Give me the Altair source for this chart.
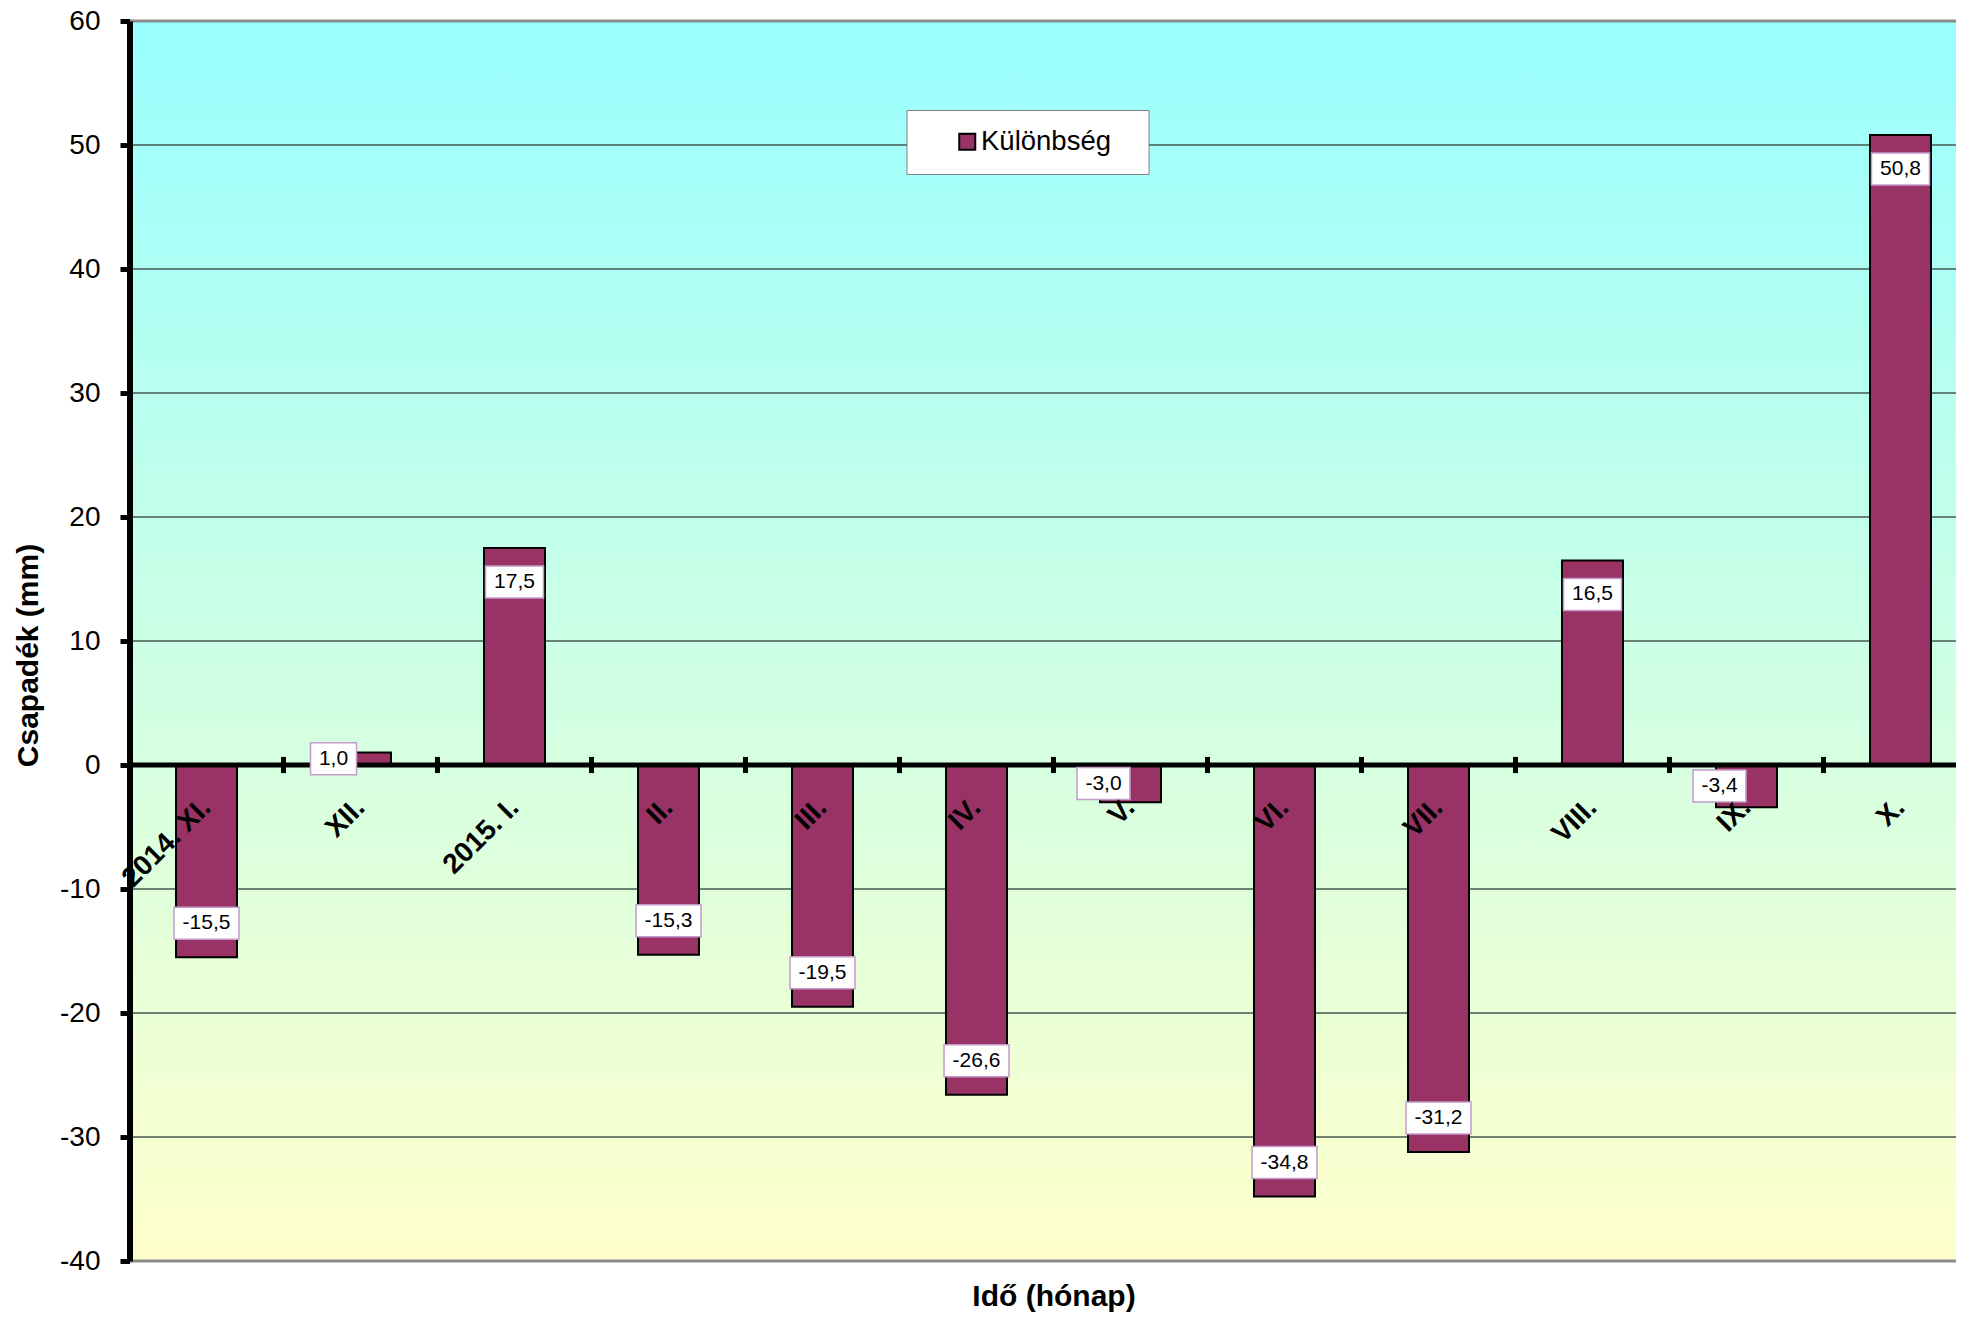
import altair as alt
import pandas as pd

# ---- data ----
months = ["2014. XI.", "XII.", "2015. I.", "II.", "III.", "IV.", "V.", "VI.",
          "VII.", "VIII.", "IX.", "X."]
values = [-15.5, 1.0, 17.5, -15.3, -19.5, -26.6, -3.0, -34.8, -31.2, 16.5, -3.4, 50.8]
series_name = "Különbség"
y_ticks = [-40, -30, -20, -10, 0, 10, 20, 30, 40, 50, 60]
x_title = "Idő (hónap)"
y_title = "Csapadék (mm)"

# ---- layout / style ----
FONT = "Liberation Sans"
PAD_L, PAD_T, PAD_B = 121.5, 13, 53
W_RANGE = 1848                 # band range: runs past the visible edge, as in the reference
W = 1948 - PAD_L               # visible view width (keeps the page inside the window)
H = 1240
Y_MIN, Y_MAX = -40, 60
PX_PER_UNIT = H / (Y_MAX - Y_MIN)
BAR = "#993366"
P_IN, P_OUT = 0.604, 0.302
STEP = W_RANGE / (len(months) - P_IN + 2 * P_OUT)

def label_text(v):
    return f"{v:.1f}".replace(".", ",")

_cw = {"-": 0.333, ",": 0.278}
def text_w(s, size=21):
    return sum(_cw.get(c, 0.556) for c in s) * size

rows = []
for m, v in zip(months, values):
    lab = label_text(v)
    small = abs(v) < 5
    sign = 1 if v >= 0 else -1
    ly = v * 0.5 if small else v - sign * 34 / PX_PER_UNIT
    half = 16 / PX_PER_UNIT
    rows.append(dict(month=m, value=v, series=series_name, label=lab, ly=ly,
                     b1=ly - half, b2=ly + half, small=int(small),
                     w=int(round(text_w(lab) + 17))))
df = pd.DataFrame(rows)

xscale = alt.Scale(domain=months, range=[0, W_RANGE], paddingInner=P_IN, paddingOuter=P_OUT)
yscale = alt.Scale(domain=[Y_MIN, Y_MAX], nice=False, zero=False)

xaxis = alt.Axis(
    title=x_title, orient="bottom", offset=-(0 - Y_MIN) * PX_PER_UNIT,
    domain=False, ticks=False, tickSize=0, grid=False,
    labelAngle=315, labelAlign="right", labelBaseline="middle", labelPadding=38,
    labelFontSize=28, labelFontWeight="bold", labelColor="black", labelFont=FONT,
    labelOverlap=False, labelLimit=400,
    titleFont=FONT, titleFontSize=30, titleFontWeight="bold", titleColor="black",
    titleX=W_RANGE / 2, titleY=540, titleBaseline="alphabetic", titleAlign="center",
    zindex=1,
)
yaxis = alt.Axis(
    values=y_ticks, title=y_title, grid=False,
    domainColor="black", domainWidth=6, tickColor="black", tickWidth=5, tickSize=9.5,
    labelPadding=20, labelFontSize=28, labelFont=FONT, labelColor="black",
    labelExpr="'' + datum.value", labelBaseline="middle",
    titleFont=FONT, titleFontSize=30, titleFontWeight="bold", titleColor="black",
    titleAngle=270, titleX=-92.5, titleY=634, titleBaseline="alphabetic", titleAlign="center",
    zindex=1,
)

def X(**kw):
    return alt.X("month:N", scale=xscale, axis=xaxis, sort=months, **kw)

def Y(field):
    return alt.Y(field, scale=yscale, axis=yaxis)

base = alt.Chart(df)

# background gradient
bg = alt.Chart(pd.DataFrame({"top": [Y_MAX], "bottom": [Y_MIN]})).mark_rect(
    fill=alt.Gradient(gradient="linear",
                      stops=[alt.GradientStop(color="#99FFFF", offset=0),
                             alt.GradientStop(color="#FFFFCC", offset=1)],
                      x1=0, x2=0, y1=0, y2=1)
).encode(x=alt.value(0), x2=alt.value("width"), y=Y("top:Q"), y2="bottom:Q")

tick_df = pd.DataFrame({"tick": y_ticks})
grid_inner = alt.Chart(tick_df).transform_filter(
    (alt.datum.tick != Y_MAX) & (alt.datum.tick != Y_MIN)
).mark_rule(color="#46594F", strokeWidth=1.3).encode(y=Y("tick:Q"))
grid_border = alt.Chart(tick_df).transform_filter(
    (alt.datum.tick == Y_MAX) | (alt.datum.tick == Y_MIN)
).mark_rule(color="#8C8C8C", strokeWidth=3).encode(y=Y("tick:Q"))

bars = base.mark_bar(stroke="black", strokeWidth=2).encode(
    x=X(),
    y=Y("value:Q"),
    y2=alt.datum(0),
    color=alt.Color("series:N",
                    scale=alt.Scale(domain=[series_name], range=[BAR]),
                    legend=alt.Legend(title="\u00a0", titleOrient="right", titlePadding=20,
                                      titleFontSize=10,
                                      orient="none", legendX=777, legendY=89,
                                      fillColor="white", strokeColor="#808080", padding=18,
                                      symbolType="square", symbolSize=256,
                                      symbolStrokeColor="black", symbolStrokeWidth=2,
                                      symbolOffset=29, labelOffset=0,
                                      labelFontSize=27.5, labelFont=FONT, labelColor="black")),
)

zero = alt.Chart(pd.DataFrame({"z": [0]})).mark_rule(color="black", strokeWidth=5).encode(
    y=Y("z:Q"))

# ticks on the zero line at the boundaries between months
ticks = base.mark_rule(color="black", strokeWidth=5, xOffset=-STEP * P_IN / 2).encode(
    x=X(bandPosition=0), y=alt.datum(-0.65), y2=alt.datum(0.65))

layers = [bg, grid_inner, grid_border, bars, zero, ticks]

groups = sorted(set(zip(df["w"], df["small"])))
for w, sm in groups:
    layers.append(
        base.transform_filter((alt.datum.w == int(w)) & (alt.datum.small == int(sm)))
        .mark_bar(width=int(w), fill="white", stroke="#C49BCB", strokeWidth=1.5,
                  xOffset=-27 if sm else 0)
        .encode(x=X(), y=Y("b1:Q"), y2="b2:Q")
    )

for sm in (0, 1):
    layers.append(
        base.transform_filter(alt.datum.small == sm)
        .mark_text(fontSize=21, font=FONT, color="black", dx=-27 if sm else 0,
                   align="center", baseline="middle")
        .encode(x=X(), y=Y("ly:Q"), text="label:N")
    )

chart = alt.layer(*layers).properties(
    width=W, height=H,
    autosize=alt.AutoSizeParams(type="none"),
    padding={"left": PAD_L, "top": PAD_T, "right": 0, "bottom": PAD_B},
    background="white",
).configure_view(stroke=None).configure(font=FONT)

chart.save("out.html", embed_options={"renderer": "svg", "actions": False})
